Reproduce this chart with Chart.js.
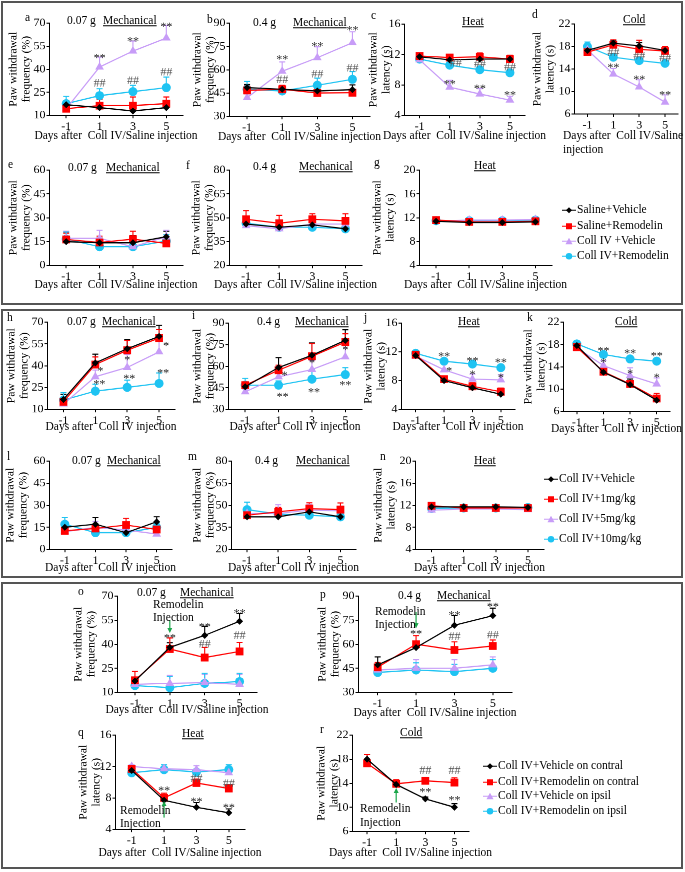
<!DOCTYPE html>
<html><head><meta charset="utf-8">
<script src="https://cdn.jsdelivr.net/npm/chart.js@4.4.1/dist/chart.umd.min.js"></script>
<style>
html,body{margin:0;padding:0;background:#fff;}
#root{position:relative;width:685px;height:872px;overflow:hidden;font-family:"Liberation Serif","Times New Roman",serif;color:#000;}
.box{position:absolute;border:2px solid #555;box-sizing:border-box;}
.t{position:absolute;font-size:11.5px;line-height:1;white-space:nowrap;transform:translateY(-50%);}
.xt{position:absolute;font-size:11.5px;line-height:1;white-space:pre;transform:translate(-50%,-50%);}
.u{text-decoration:underline;}
canvas{position:absolute;}
.leg{position:absolute;font-size:11.5px;line-height:1;white-space:nowrap;display:flex;align-items:center;transform:translateY(-50%);}
.leg svg{margin-right:1px;}
</style></head><body><div id="root"></div>
<script>
// ---------------- DATA ----------------
const categories = ['-1', '1', '3', '5'];
const freqTitle = ['Paw withdrawal', 'frequency (%)'];
const latTitle = ['Paw withdrawal', 'latency (s)'];
const xTitleSaline = 'Days after  Coll IV/Saline injection';
const xTitleColl = 'Days after  Coll IV injection';
const legendTop = ['Saline+Vehicle', 'Saline+Remodelin', 'Coll IV +Vehicle', 'Coll IV+Remodelin'];
const legendMid = ['Coll IV+Vehicle', 'Coll IV+1mg/kg', 'Coll IV+5mg/kg', 'Coll IV+10mg/kg'];
const legendBottom = ['Coll IV+Vehicle on contral', 'Coll IV+Remodelin on contral', 'Coll IV+Vehicle on ipsil', 'Coll IV+Remodelin on ipsil'];

// y axis ranges [min, max, step]
const yA = [10, 70, 15], yB = [30, 90, 15], yC = [4, 16, 4], yD = [6, 22, 4];
const yE = [0, 60, 15], yF = [20, 80, 15], yG = [4, 20, 4];
const yH = [10, 70, 15], yI = [30, 90, 15], yJ = [4, 16, 4], yK = [6, 22, 4];
const yL = [0, 60, 15], yM = [20, 80, 15], yN = [4, 20, 4];
const yO = [10, 70, 15], yP = [30, 90, 15], yQ = [4, 16, 4], yR = [6, 22, 4];

// Panel a
const a_black = [16.9, 15.0, 12.8, 15.0], a_blackErr = [1.5, 1.5, 1.2, 1.5];
const a_red = [14.3, 16.3, 16.3, 17.6], a_redErr = [2.5, 4.0, 5.6, 4.3];
const a_purple = [14.3, 41.4, 51.8, 60.3], a_purpleErr = [3.0, 6.5, 6.5, 8.2];
const a_cyan = [17.6, 22.8, 25.4, 28.0], a_cyanErr = [4.7, 4.5, 4.1, 6.9];
const a_marks = [[1, 49.6, '**'], [2, 60.5, '**'], [3, 70, '**'], [1, 31.7, '##'], [2, 33.4, '##'], [3, 38.8, '##']];
// Panel b
const b_black = [48.5, 47.4, 46.3, 47.2], b_blackErr = [2, 2, 1.5, 3];
const b_red = [46.7, 47.4, 45.0, 45.2], b_redErr = [3, 2.5, 1.5, 2];
const b_purple = [42.0, 59.0, 67.7, 77.4], b_purpleErr = [2.5, 6, 7, 7];
const b_cyan = [47.4, 46.3, 50.0, 53.8], b_cyanErr = [5, 2, 4.5, 5];
const b_marks = [[1, 68.8, '**'], [2, 77.5, '**'], [3, 87.8, '**'], [1, 54.3, '##'], [2, 58, '##'], [3, 61.9, '##']];
// Panel c
const c_black = [11.7, 11.3, 11.4, 11.4], c_blackErr = [0.3, 0.3, 0.3, 0.3];
const c_red = [11.8, 11.6, 11.7, 11.4], c_redErr = [0.3, 0.4, 0.5, 0.5];
const c_purple = [11.3, 7.7, 6.8, 6.0], c_purpleErr = [0.3, 0.9, 0.7, 0.5];
const c_cyan = [11.4, 10.6, 10.0, 9.6], c_cyanErr = [0.3, 0.3, 0.3, 0.3];
const c_marks = [[1, 8.6, '**'], [2, 8.0, '**'], [3, 7.1, '**'], [1, 11.0, '##'], [2, 10.9, '##'], [3, 10.5, '##']];
// Panel d
const d_black = [17.3, 18.6, 18.1, 17.3], d_blackErr = [0.4, 0.5, 0.6, 0.4];
const d_red = [17.0, 18.3, 17.5, 17.2], d_redErr = [0.4, 0.9, 1.6, 0.8];
const d_purple = [17.4, 13.1, 10.8, 8.1], d_purpleErr = [0.5, 1.0, 1.3, 1.3];
const d_cyan = [18.0, 16.1, 15.5, 15.0], d_cyanErr = [0.8, 0.3, 0.3, 0.3];
const d_marks = [[1, 17.1, '##'], [2, 16.5, '##'], [3, 16.1, '##'], [1, 14.9, '**'], [2, 12.8, '**'], [3, 10.0, '**']];
// Panel e
const e_black = [14.9, 14.2, 14.2, 18.0], e_blackErr = [1.5, 3.0, 4.5, 3.5];
const e_red = [16.3, 14.4, 16.5, 13.8], e_redErr = [4.0, 4.0, 5.0, 4.0];
const e_purple = [17.0, 17.0, 11.7, 18.0], e_purpleErr = [4.5, 5.0, 2.5, 4.0];
const e_cyan = [16.5, 11.7, 11.7, 15.3], e_cyanErr = [4.5, 2.5, 2.5, 4.0];
// Panel f
const f_black = [46.0, 44.0, 45.5, 43.0], f_blackErr = [3, 3, 3, 2];
const f_red = [49.0, 46.5, 49.0, 48.0], f_redErr = [5.5, 5, 3.5, 4.5];
const f_purple = [45.0, 43.0, 46.0, 46.0], f_purpleErr = [3, 3, 3, 3];
const f_cyan = [46.5, 44.0, 44.0, 43.0], f_cyanErr = [3, 2, 2, 2];
// Panel g
const g_black = [11.4, 11.2, 11.2, 11.3], g_blackErr = [0.3, 0.3, 0.3, 0.3];
const g_red = [11.6, 11.3, 11.3, 11.4], g_redErr = [0.3, 0.3, 0.3, 0.3];
const g_purple = [11.4, 11.6, 11.6, 11.7], g_purpleErr = [0.3, 0.3, 0.3, 0.3];
const g_cyan = [11.5, 11.5, 11.5, 11.6], g_cyanErr = [0.3, 0.3, 0.3, 0.3];
// Panel h
const h_black = [16.8, 41.9, 51.7, 60.2], h_blackErr = [3.5, 6, 6.2, 7.5];
const h_red = [15.2, 40.8, 50.6, 59.0], h_redErr = [3, 5.2, 6.8, 5.8];
const h_purple = [13.6, 32.4, 38.8, 49.5], h_purpleErr = [2, 4.6, 9, 7.5];
const h_cyan = [16.4, 22.5, 25.1, 27.8], h_cyanErr = [5, 4.8, 5, 7.2];
const h_marks = [[1, 38.7, '*'], [1, 29.6, '**'], [2, 46.5, '*'], [2, 33.5, '**'], [3, 56.3, '*'], [3, 37.4, '**']];
// Panel i
const i_black = [45.7, 59.1, 67.6, 78.0], i_blackErr = [3, 6.9, 8.6, 7.4];
const i_red = [46.8, 57.2, 66.9, 76.8], i_redErr = [2, 3.5, 8.8, 5.8];
const i_purple = [42.2, 52.6, 57.7, 66.5], i_purpleErr = [2, 5.1, 6.3, 8];
const i_cyan = [46.8, 46.8, 51.0, 54.2], i_cyanErr = [4.7, 3, 6.7, 4.8];
const i_marks = [[1, 56.1, '*'], [1, 41.1, '**'], [2, 64.6, '*'], [2, 44.5, '**'], [3, 73.8, '*'], [3, 49.2, '**']];
// Panel j
const j_black = [11.5, 8.0, 7.0, 6.1], j_blackErr = [0.2, 0.3, 0.4, 0.3];
const j_red = [11.6, 8.2, 7.2, 6.45], j_redErr = [0.2, 0.4, 0.5, 0.5];
const j_purple = [11.4, 9.5, 8.2, 8.1], j_purpleErr = [0.2, 0.9, 0.7, 0.7];
const j_cyan = [11.8, 10.7, 10.3, 9.8], j_cyanErr = [0.3, 0.3, 0.3, 0.3];
const j_marks = [[1, 11.85, '**'], [1, 9.8, '*'], [2, 11.2, '**'], [2, 9.3, '*'], [3, 11.0, '**'], [3, 8.9, '*']];
// Panel k
const k_black = [17.8, 13.0, 10.8, 8.0], k_blackErr = [0.3, 0.4, 1.0, 0.6];
const k_red = [17.5, 13.1, 10.9, 8.3], k_redErr = [0.3, 0.4, 0.5, 0.9];
const k_purple = [17.4, 14.2, 12.4, 10.9], k_purpleErr = [0.3, 0.9, 1.4, 1.1];
const k_cyan = [18.1, 16.2, 15.4, 15.0], k_cyanErr = [0.4, 0.4, 0.4, 0.5];
const k_marks = [[1, 17.5, '**'], [2, 17.0, '**'], [3, 16.6, '**'], [1, 15.4, '*'], [2, 13.4, '*'], [3, 12.7, '*']];
// Panel l
const l_black = [15.0, 17.1, 11.3, 18.7], l_blackErr = [3, 4.5, 2, 3.5];
const l_red = [12.6, 14.2, 16.5, 13.5], l_redErr = [2, 3, 4.5, 2];
const l_purple = [12.0, 14.9, 13.1, 10.4], l_purpleErr = [2, 4, 3, 2];
const l_cyan = [17.1, 11.3, 11.3, 14.9], l_cyanErr = [4.5, 2, 2, 3];
// Panel m
const m_black = [42.1, 42.1, 45.5, 42.1], m_blackErr = [2, 3, 2, 2];
const m_red = [43.2, 45.5, 47.7, 47.0], m_redErr = [2, 3, 4, 4.5];
const m_purple = [44.4, 44.4, 46.6, 46.2], m_purpleErr = [3, 6, 4, 3];
const m_cyan = [47.0, 43.9, 43.2, 42.1], m_cyanErr = [5, 3, 3, 3];
// Panel n
const n_black = [11.7, 11.7, 11.7, 11.6], n_blackErr = [0.3, 0.3, 0.3, 0.3];
const n_red = [11.9, 11.5, 11.5, 11.5], n_redErr = [0.3, 0.3, 0.3, 0.3];
const n_purple = [11.1, 11.3, 11.3, 11.2], n_purpleErr = [0.3, 0.3, 0.3, 0.3];
const n_cyan = [11.4, 11.5, 11.5, 11.6], n_cyanErr = [0.3, 0.3, 0.3, 0.3];
// Panel o
const o_black = [17.1, 38.0, 45.5, 54.3], o_blackErr = [2, 3, 5.7, 4.8];
const o_red = [17.5, 37.0, 31.7, 35.5], o_redErr = [5.5, 6.9, 6.3, 5.6];
const o_purple = [15.0, 15.6, 16.0, 15.0], o_purpleErr = [4, 5, 5, 6];
const o_cyan = [14.2, 12.9, 15.6, 16.7], o_cyanErr = [3, 7, 6.3, 5.2];
const o_marks = [[1, 46, '**'], [2, 53, '**'], [3, 61.6, '**'], [2, 40.8, '##'], [3, 46, '##']];
const o_arrow = [1, 55, 47];
// Panel p
const p_black = [47.1, 57.9, 71.8, 77.8], p_blackErr = [5, 2, 6, 4.7];
const p_red = [45.6, 60.0, 56.4, 58.9], p_redErr = [3, 5.4, 5.1, 3.7];
const p_purple = [43.9, 45.0, 45.0, 47.1], p_purpleErr = [3, 5.4, 5.4, 5];
const p_cyan = [42.4, 43.9, 42.9, 45.0], p_cyanErr = [2, 4.5, 4.5, 5.4];
const p_marks = [[1, 68.6, '**'], [2, 80.4, '**'], [3, 85.7, '**'], [2, 65.4, '##'], [3, 66.4, '##']];
const p_arrow = [1, 80, 70];
// Panel q
const q_black = [11.5, 7.7, 6.8, 6.1], q_blackErr = [0.3, 0.3, 0.6, 0.5];
const q_red = [11.7, 8.0, 9.9, 9.2], q_redErr = [0.3, 0.6, 0.5, 0.5];
const q_purple = [12.0, 11.7, 11.6, 11.2], q_purpleErr = [0.2, 0.3, 0.5, 0.3];
const q_cyan = [11.2, 11.6, 11.3, 11.6], q_cyanErr = [0.2, 0.6, 0.3, 0.6];
const q_marks = [[1, 9.4, '**'], [2, 8.0, '**'], [3, 7.2, '**'], [2, 10.6, '##'], [3, 10.0, '##']];
const q_arrow = [1, 5.5, 7.6];
// Panel r
const r_black = [18.0, 13.8, 11.4, 10.0], r_blackErr = [0.8, 0.3, 0.3, 0.6];
const r_red = [17.3, 13.9, 14.4, 14.1], r_redErr = [1.5, 0.7, 0.5, 0.8];
const r_marks = [[2, 16.3, '##'], [3, 16.3, '##'], [2, 13.1, '**'], [3, 11.8, '**']];
const r_arrow = [1, 10.8, 13.2];

// ---------------- LAYOUT / STYLE ----------------
const FONT = '"Liberation Serif", "Times New Roman", serif';
const STY = [
  { color: '#000000', point: 'rectRot', r: 3.5 },
  { color: '#ff0000', point: 'rect', r: 5.5 },
  { color: '#c79cf7', point: 'triangle', r: 5 },
  { color: '#1ec3f2', point: 'circle', r: 4.5 },
];
const LAY = {
  a: { L: 49, T: 23, R: 183, B: 115, ytx: 13, xty: 136 },
  b: { L: 229, T: 23, R: 370, B: 116, ytx: 197, xty: 137 },
  c: { L: 404, T: 24, R: 525, B: 115, ytx: 373, xty: 136, dx: [0, 0, 0, 6, 0, 0] },
  d: { L: 574, T: 24, R: 678, B: 114, ytx: 537, xty: null },
  e: { L: 49, T: 170, R: 183, B: 265, ytx: 13, xty: 285 },
  f: { L: 229, T: 170, R: 362, B: 265, ytx: 196, xty: 285 },
  g: { L: 419, T: 170, R: 552, B: 265, ytx: 377, xty: 285 },
  h: { L: 47, T: 322, R: 175, B: 409, ytx: 11, xty: 427, dx: [5, 4, 0, 2, 7, 4] },
  i: { L: 228, T: 323, R: 362, B: 409, ytx: 197, xty: 427, dx: [6, 4, 0, 2, 0, 0] },
  j: { L: 401, T: 323, R: 515, B: 409, ytx: 368, xty: 427, dx: [0, 5, 0, 0, 0, 0] },
  k: { L: 563, T: 322, R: 670, B: 411, ytx: 528, xty: 429 },
  l: { L: 49, T: 461, R: 172, B: 549, ytx: 10, xty: 568 },
  m: { L: 231, T: 461, R: 356, B: 549, ytx: 197, xty: 568 },
  n: { L: 415, T: 461, R: 544, B: 549, ytx: 378, xty: 568 },
  o: { L: 117, T: 596, R: 257, B: 692, ytx: 78, xty: 710 },
  p: { L: 358, T: 596, R: 512, B: 692, ytx: 322, xty: 713 },
  q: { L: 115, T: 735, R: 245, B: 829, ytx: 83, xty: 853 },
  r: { L: 352, T: 735, R: 469, B: 831, ytx: 321, xty: 853 },
};

const panels = [
  { id: 'a', yr: yA, yt: freqTitle, xt: xTitleSaline, s: [[a_black, a_blackErr], [a_red, a_redErr], [a_purple, a_purpleErr], [a_cyan, a_cyanErr]], marks: a_marks },
  { id: 'b', yr: yB, yt: freqTitle, xt: xTitleSaline, s: [[b_black, b_blackErr], [b_red, b_redErr], [b_purple, b_purpleErr], [b_cyan, b_cyanErr]], marks: b_marks },
  { id: 'c', yr: yC, yt: latTitle, xt: xTitleSaline, s: [[c_black, c_blackErr], [c_red, c_redErr], [c_purple, c_purpleErr], [c_cyan, c_cyanErr]], marks: c_marks },
  { id: 'd', yr: yD, yt: latTitle, xt: null, s: [[d_black, d_blackErr], [d_red, d_redErr], [d_purple, d_purpleErr], [d_cyan, d_cyanErr]], marks: d_marks },
  { id: 'e', yr: yE, yt: freqTitle, xt: xTitleSaline, s: [[e_black, e_blackErr], [e_red, e_redErr], [e_purple, e_purpleErr], [e_cyan, e_cyanErr]] },
  { id: 'f', yr: yF, yt: freqTitle, xt: xTitleSaline, s: [[f_black, f_blackErr], [f_red, f_redErr], [f_purple, f_purpleErr], [f_cyan, f_cyanErr]] },
  { id: 'g', yr: yG, yt: latTitle, xt: xTitleSaline, s: [[g_black, g_blackErr], [g_red, g_redErr], [g_purple, g_purpleErr], [g_cyan, g_cyanErr]] },
  { id: 'h', yr: yH, yt: freqTitle, xt: xTitleColl, s: [[h_black, h_blackErr], [h_red, h_redErr], [h_purple, h_purpleErr], [h_cyan, h_cyanErr]], marks: h_marks },
  { id: 'i', yr: yI, yt: freqTitle, xt: xTitleColl, s: [[i_black, i_blackErr], [i_red, i_redErr], [i_purple, i_purpleErr], [i_cyan, i_cyanErr]], marks: i_marks },
  { id: 'j', yr: yJ, yt: latTitle, xt: xTitleColl, s: [[j_black, j_blackErr], [j_red, j_redErr], [j_purple, j_purpleErr], [j_cyan, j_cyanErr]], marks: j_marks },
  { id: 'k', yr: yK, yt: latTitle, xt: xTitleColl, s: [[k_black, k_blackErr], [k_red, k_redErr], [k_purple, k_purpleErr], [k_cyan, k_cyanErr]], marks: k_marks },
  { id: 'l', yr: yL, yt: freqTitle, xt: xTitleColl, s: [[l_black, l_blackErr], [l_red, l_redErr], [l_purple, l_purpleErr], [l_cyan, l_cyanErr]] },
  { id: 'm', yr: yM, yt: freqTitle, xt: xTitleColl, s: [[m_black, m_blackErr], [m_red, m_redErr], [m_purple, m_purpleErr], [m_cyan, m_cyanErr]] },
  { id: 'n', yr: yN, yt: latTitle, xt: xTitleColl, s: [[n_black, n_blackErr], [n_red, n_redErr], [n_purple, n_purpleErr], [n_cyan, n_cyanErr]] },
  { id: 'o', yr: yO, yt: freqTitle, xt: xTitleSaline, s: [[o_black, o_blackErr], [o_red, o_redErr], [o_purple, o_purpleErr], [o_cyan, o_cyanErr]], marks: o_marks, arrow: o_arrow },
  { id: 'p', yr: yP, yt: freqTitle, xt: xTitleSaline, s: [[p_black, p_blackErr], [p_red, p_redErr], [p_purple, p_purpleErr], [p_cyan, p_cyanErr]], marks: p_marks, arrow: p_arrow },
  { id: 'q', yr: yQ, yt: latTitle, xt: xTitleSaline, s: [[q_black, q_blackErr], [q_red, q_redErr], [q_purple, q_purpleErr], [q_cyan, q_cyanErr]], marks: q_marks, arrow: q_arrow },
  { id: 'r', yr: yR, yt: latTitle, xt: xTitleSaline, s: [[r_black, r_blackErr], [r_red, r_redErr]], marks: r_marks, arrow: r_arrow },
];

const texts = [
  [25, 18, 'a'], [67, 21, '0.07 g'], [103, 21, 'Mechanical', 'u'],
  [207, 20, 'b'], [253, 23, '0.4 g'], [293, 23, 'Mechanical', 'u'],
  [371, 16, 'c'], [462, 22, 'Heat', 'u'],
  [532, 15, 'd'], [623, 20, 'Cold', 'u'],
  [563, 136, 'Days after  Coll IV/Saline'], [563, 150, 'injection'],
  [8, 165, 'e'], [68, 168, '0.07 g'], [106, 168, 'Mechanical', 'u'],
  [186, 166, 'f'], [253, 167, '0.4 g'], [299, 167, 'Mechanical', 'u'],
  [374, 163, 'g'], [474, 166, 'Heat', 'u'],
  [7, 318, 'h'], [67, 322, '0.07 g'], [102, 322, 'Mechanical', 'u'],
  [192, 316, 'i'], [257, 322, '0.4 g'], [295, 322, 'Mechanical', 'u'],
  [364, 318, 'j'], [458, 322, 'Heat', 'u'],
  [527, 318, 'k'], [615, 322, 'Cold', 'u'],
  [7, 457, 'l'], [72, 461, '0.07 g'], [107, 461, 'Mechanical', 'u'],
  [188, 457, 'm'], [255, 461, '0.4 g'], [296, 461, 'Mechanical', 'u'],
  [380, 457, 'n'], [474, 461, 'Heat', 'u'],
  [78, 592, 'o'], [137, 593, '0.07 g'], [180, 593, 'Mechanical', 'u'], [153, 605, 'Remodelin'], [153, 618, 'Injection'],
  [320, 595, 'p'], [398, 596, '0.4 g'], [437, 596, 'Mechanical', 'u'], [375, 612, 'Remodelin'], [375, 625, 'Injection'],
  [78, 733, 'q'], [182, 734, 'Heat', 'u'], [120, 811, 'Remodelin'], [120, 824, 'Injection'],
  [320, 730, 'r'], [400, 733, 'Cold', 'u'], [360, 809, 'Remodelin'], [360, 823, 'Injection'],
];
const legends = [
  { x: 562, ys: [210, 226, 241, 256], labels: legendTop },
  { x: 544, ys: [479, 499, 519, 539], labels: legendMid },
  { x: 483, ys: [766, 782, 796, 811], labels: legendBottom },
];
const boxes = [[1, 1, 682, 304], [1, 309, 682, 269], [1, 582, 682, 287]];

// ---------------- RENDER ----------------
const root = document.getElementById('root');
boxes.forEach(([x, y, w, h]) => {
  const d = document.createElement('div'); d.className = 'box';
  Object.assign(d.style, { left: x + 'px', top: y + 'px', width: w + 'px', height: h + 'px' });
  root.appendChild(d);
});

const errPlugin = {
  id: 'extras',
  beforeDatasetsDraw(chart) {
    const { ctx } = chart; const x = chart.scales.x, y = chart.scales.y;
    chart.data.datasets.forEach(ds => {
      if (!ds.err) return;
      ctx.save(); ctx.strokeStyle = ds.borderColor; ctx.lineWidth = 1.1;
      ds.data.forEach((v, i) => {
        const e = ds.err[i]; if (!e) return;
        const px = x.getPixelForValue(i), p0 = y.getPixelForValue(v), p1 = y.getPixelForValue(v + e);
        ctx.beginPath(); ctx.moveTo(px, p0); ctx.lineTo(px, p1);
        ctx.moveTo(px - 3, p1); ctx.lineTo(px + 3, p1); ctx.stroke();
      });
      ctx.restore();
    });
  },
  afterDatasetsDraw(chart, args, opts) {
    const { ctx } = chart; const x = chart.scales.x, y = chart.scales.y;
    ctx.save();
    (opts.marks || []).forEach((m, k) => {
      const dx = (opts.dx && opts.dx[k]) || 0;
      const px = x.getPixelForValue(m[0]) + dx, py = y.getPixelForValue(m[1]);
      const star = m[2].indexOf('*') >= 0;
      ctx.font = '12px ' + FONT; ctx.textAlign = 'center'; ctx.textBaseline = 'alphabetic';
      ctx.fillStyle = star ? '#222' : '#555';
      ctx.fillText(m[2], px, py + (star ? 7 : 4.5));
    });
    if (opts.arrow) {
      const [ci, from, to] = opts.arrow;
      const px = x.getPixelForValue(ci), y0 = y.getPixelForValue(from), y1 = y.getPixelForValue(to);
      const dir = y1 > y0 ? 1 : -1;
      ctx.strokeStyle = '#1aa64a'; ctx.fillStyle = '#1aa64a'; ctx.lineWidth = 1.2;
      ctx.beginPath(); ctx.moveTo(px, y0); ctx.lineTo(px, y1 - dir * 2); ctx.stroke();
      ctx.beginPath(); ctx.moveTo(px, y1); ctx.lineTo(px - 2.5, y1 - dir * 5); ctx.lineTo(px + 2.5, y1 - dir * 5); ctx.closePath(); ctx.fill();
    }
    ctx.restore();
  }
};

const LH = 13;
panels.forEach(p => {
  const lay = LAY[p.id];
  const left = lay.ytx - LH / 2;
  const top = lay.T - 12;
  const width = lay.R + 8 - left;
  const xH = lay.xty ? (lay.xty + LH / 2 - lay.B) : 30;
  const height = lay.B + xH - top;
  const yW = lay.L - left;
  const cv = document.createElement('canvas');
  cv.width = width; cv.height = height;
  Object.assign(cv.style, { left: left + 'px', top: top + 'px', width: width + 'px', height: height + 'px' });
  root.appendChild(cv);
  const datasets = p.s.map((s, i) => ({
    label: String(i), data: s[0], err: s[1],
    borderColor: STY[i].color, backgroundColor: STY[i].color,
    pointBackgroundColor: STY[i].color, pointBorderColor: STY[i].color, pointBorderWidth: 0,
    pointStyle: STY[i].point, pointRadius: STY[i].r, borderWidth: 1.2, tension: 0, fill: false,
  }));
  const tickFont = { family: FONT, size: 12 };
  const titleFont = { family: FONT, size: 11.5, lineHeight: LH / 11.5 };
  new Chart(cv, {
    type: 'line',
    data: { labels: categories, datasets },
    options: {
      responsive: false, animation: false, devicePixelRatio: 2,
      layout: { padding: { top: 12, right: 8, left: 0, bottom: 0 } },
      plugins: { legend: { display: false }, tooltip: { enabled: false },
        extras: { marks: p.marks, dx: lay.dx, arrow: p.arrow } },
      scales: {
        x: {
          type: 'category', offset: true,
          grid: { display: true, drawOnChartArea: false, drawTicks: true, tickLength: 3, color: '#000' },
          border: { display: true, color: '#000', width: 1 },
          ticks: { font: tickFont, color: '#000', padding: 1, maxRotation: 0, autoSkip: false },
          title: { display: false },
          afterFit: s => { s.height = xH; },
        },
        y: {
          min: p.yr[0], max: p.yr[1],
          grid: { display: true, drawOnChartArea: false, drawTicks: true, tickLength: 3, color: '#000' },
          border: { display: true, color: '#000', width: 1 },
          ticks: { stepSize: p.yr[2], font: tickFont, color: '#000', padding: 1 },
          title: { display: true, text: p.yt, font: titleFont, color: '#000', padding: 0 },
          afterFit: s => { s.width = yW; },
        },
      },
    },
    plugins: [errPlugin],
  });
  if (p.xt) {
    const d = document.createElement('div'); d.className = 'xt';
    d.style.left = ((lay.L + lay.R) / 2) + 'px'; d.style.top = lay.xty + 'px'; d.textContent = p.xt;
    root.appendChild(d);
  }
});

texts.forEach(([x, y, s, cls]) => {
  const d = document.createElement('div'); d.className = 't' + (cls ? ' ' + cls : '');
  d.style.left = x + 'px'; d.style.top = y + 'px'; d.textContent = s;
  d.style.whiteSpace = 'pre';
  root.appendChild(d);
});

function sym(i) {
  const c = STY[i].color;
  let m = '';
  if (i === 0) m = `<polygon points="7,2 10,5 7,8 4,5" fill="${c}"/>`;
  else if (i === 1) m = `<rect x="4" y="2" width="6" height="6" fill="${c}"/>`;
  else if (i === 2) m = `<polygon points="7,1.5 10.5,8 3.5,8" fill="${c}"/>`;
  else m = `<circle cx="7" cy="5" r="3.2" fill="${c}"/>`;
  return `<svg width="14" height="10" viewBox="0 0 14 10"><line x1="0" y1="5" x2="14" y2="5" stroke="${c}" stroke-width="1.2"/>${m}</svg>`;
}
legends.forEach(lg => {
  lg.labels.forEach((lab, i) => {
    const d = document.createElement('div'); d.className = 'leg';
    d.style.left = lg.x + 'px'; d.style.top = lg.ys[i] + 'px';
    d.innerHTML = sym(i); const sp = document.createElement('span'); sp.textContent = lab; d.appendChild(sp);
    root.appendChild(d);
  });
});
</script></body></html>
